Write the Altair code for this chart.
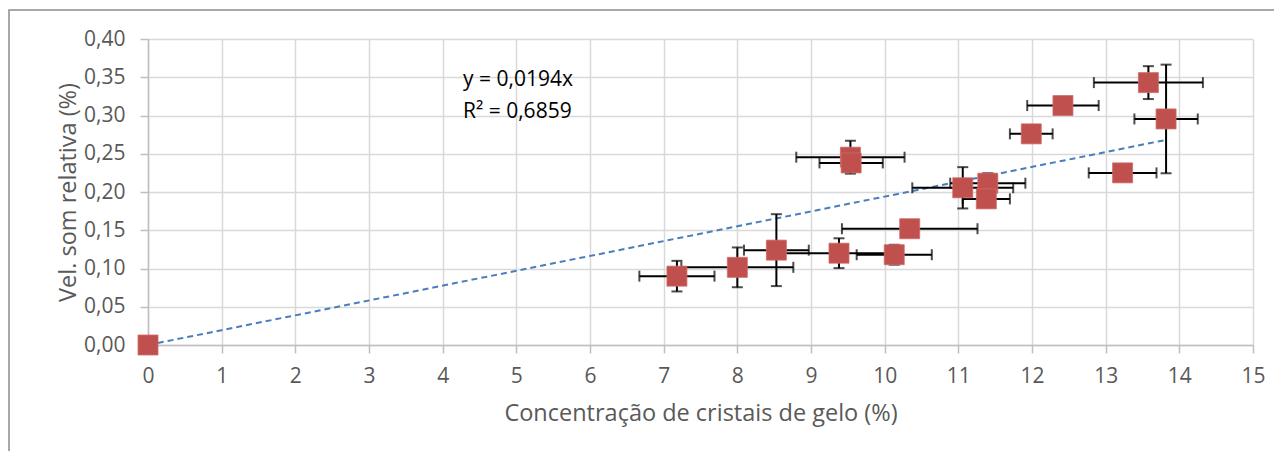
import altair as alt
import pandas as pd

# Data
conc = [0, 7.18, 8.00, 8.53, 9.38, 10.13, 9.535, 9.545, 10.34, 11.06, 11.40, 11.38, 11.99, 12.42, 13.58, 13.82, 13.23]
vel = [0, 0.090, 0.1015, 0.124, 0.120, 0.118, 0.2455, 0.238, 0.152, 0.2055, 0.2115, 0.191, 0.276, 0.313, 0.343, 0.2955, 0.225]
conc_err = [0, 0.51, 0.76, 0.44, 0.83, 0.51, 0.735, 0.43, 0.92, 0.685, 0.51, 0.32, 0.29, 0.485, 0.74, 0.43, 0.46]
vel_err = [0, 0.020, 0.026, 0.047, 0.0195, 0.013, 0.0215, 0, 0, 0.027, 0.013, 0, 0, 0, 0.0215, 0.071, 0]
slope = 0.0194
eq_line1 = "y = 0,0194x"
eq_line2 = "R² = 0,6859"
x_ticks = list(range(0, 16))
y_ticks = [0, 0.05, 0.10, 0.15, 0.20, 0.25, 0.30, 0.35, 0.40]
x_title = "Concentração de cristais de gelo (%)"
y_title = "Vel. som relativa (%)"

df = pd.DataFrame({"x": conc, "y": vel, "xe": conc_err, "ye": vel_err})
df["xlo"] = df["x"] - df["xe"]
df["xhi"] = df["x"] + df["xe"]
df["ylo"] = df["y"] - df["ye"]
df["yhi"] = df["y"] + df["ye"]

trend = pd.DataFrame({"x": [0, max(conc)]})
trend["y"] = slope * trend["x"]

FONT = "Open Sans"
XSC = alt.Scale(domain=[0, 15], nice=False, zero=False)
YSC = alt.Scale(domain=[0, 0.4], nice=False, zero=False)
XAX = alt.Axis(values=x_ticks, grid=True, gridColor="#d9d9d9", gridWidth=1.5,
               domainColor="#bfbfbf", domainWidth=1.5, tickColor="#bfbfbf", tickWidth=1.5,
               tickSize=8, labelFont=FONT, labelFontSize=21, labelColor="#595959",
               labelPadding=12, titleFont=FONT, titleFontSize=23.5, titleColor="#595959",
               titleFontWeight="normal", titleBaseline="middle", titleY=68, labelFlush=False)
YAX = alt.Axis(values=y_ticks, grid=True, gridColor="#d9d9d9", gridWidth=1.5,
               domainColor="#bfbfbf", domainWidth=1.5, tickColor="#bfbfbf", tickWidth=1.5,
               tickSize=8, labelFont=FONT, labelFontSize=21, labelColor="#595959",
               labelPadding=15, titleFont=FONT, titleFontSize=23.5, titleColor="#595959",
               titleFontWeight="normal", titlePadding=3, labelFlush=False,
               labelExpr="replace(format(datum.value, '.2f'), '.', ',')")


def X(field):
    return alt.X(field, type="quantitative", scale=XSC, axis=XAX, title=x_title)


def Y(field):
    return alt.Y(field, type="quantitative", scale=YSC, axis=YAX, title=y_title)


base = alt.Chart(df)
with_xe = base.transform_filter("datum.xe > 0")
with_ye = base.transform_filter("datum.ye > 0")

xbar = with_xe.mark_rule(color="black", strokeWidth=2).encode(x=X("xlo"), x2="xhi:Q", y=Y("y"))
xcap_lo = with_xe.mark_tick(color="black", thickness=2, size=11, orient="vertical").encode(x=X("xlo"), y=Y("y"))
xcap_hi = with_xe.mark_tick(color="black", thickness=2, size=11, orient="vertical").encode(x=X("xhi"), y=Y("y"))
ybar = with_ye.mark_rule(color="black", strokeWidth=2).encode(x=X("x"), y=Y("ylo"), y2="yhi:Q")
ycap_lo = with_ye.mark_tick(color="black", thickness=2, size=11, orient="horizontal").encode(x=X("x"), y=Y("ylo"))
ycap_hi = with_ye.mark_tick(color="black", thickness=2, size=11, orient="horizontal").encode(x=X("x"), y=Y("yhi"))

trend_line = alt.Chart(trend).mark_line(color="#4a7ebb", strokeWidth=2, strokeDash=[6, 4]).encode(
    x=X("x"), y=Y("y"))

points = base.mark_square(size=400, color="#c0504d", opacity=1, stroke="#cf6b68", strokeWidth=0.8).encode(
    x=X("x"), y=Y("y"))

one = pd.DataFrame({"a": [0]})
eq_text1 = alt.Chart(one).mark_text(font=FONT, fontSize=21, color="black", align="left",
                                    baseline="middle", text=eq_line1).encode(
    x=alt.value(315), y=alt.value(41))
eq_text2 = alt.Chart(one).mark_text(font=FONT, fontSize=21, color="black", align="left",
                                    baseline="middle", text=eq_line2).encode(
    x=alt.value(315), y=alt.value(73))

border = alt.Chart(one).mark_rect(fill="white", fillOpacity=0, stroke="#8c8c8c", strokeWidth=1.5).encode(
    x=alt.value(-139), x2=alt.value(1200), y=alt.value(-29), y2=alt.value(600),
)

chart = alt.layer(
    border, trend_line, xbar, xcap_lo, xcap_hi, ybar, ycap_lo, ycap_hi, points, eq_text1, eq_text2
).properties(
    width=1105, height=306,
    autosize=alt.AutoSizeParams(type="none"),
    padding={"left": 140, "top": 31, "right": 21, "bottom": 106},
).configure_view(strokeWidth=0)

chart.save("out.html", embed_options={"renderer": "svg", "actions": False})
